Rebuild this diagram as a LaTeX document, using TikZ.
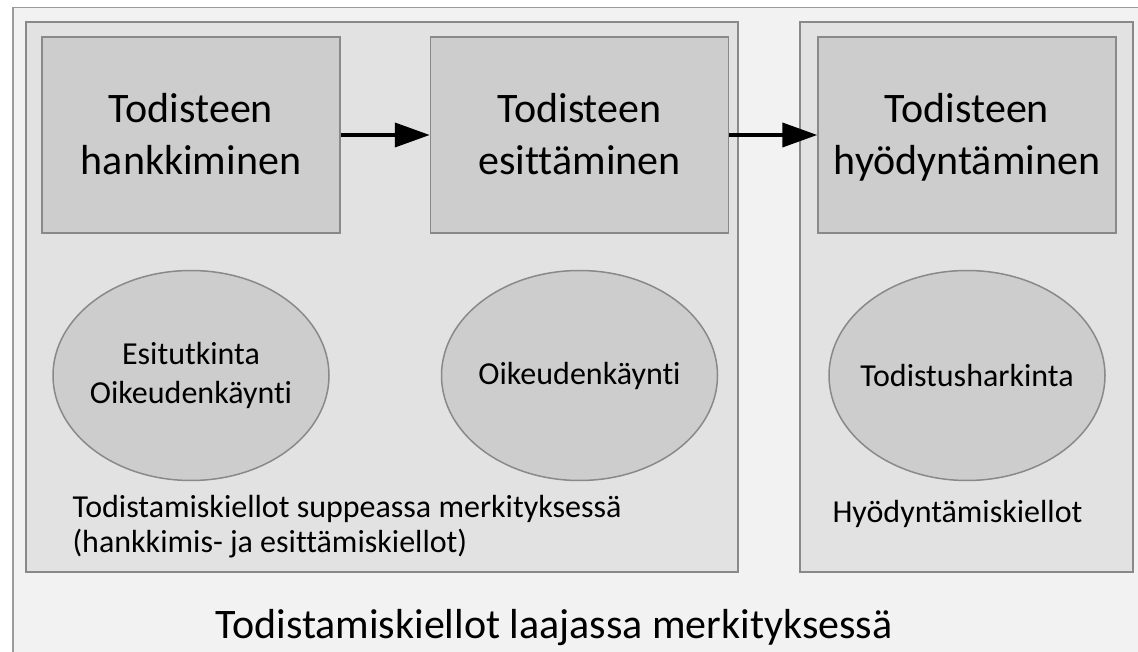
\documentclass[tikz,border=0pt]{standalone}
\usepackage{fontspec}
\setmainfont{Carlito}[Ligatures=CommonOff]
\usetikzlibrary{positioning, shapes.geometric, arrows.meta}

\definecolor{paper}{HTML}{F2F2F2}
\definecolor{groupfill}{HTML}{E2E2E2}
\definecolor{boxfill}{HTML}{CDCDCD}
\definecolor{edge}{HTML}{898989}

\tikzset{
	stage/.style={draw=edge, line width=1.5pt, fill=boxfill, minimum width=298pt, minimum height=196pt, inner sep=0pt, text height=80pt, text depth=0pt, align=center, font=\fontsize{42}{52}\selectfont},
	bubble/.style={draw=edge, line width=1.5pt, fill=boxfill, ellipse, minimum width=276pt, minimum height=210pt, inner sep=0pt},
	bubbletext/.style={align=center, font=\fontsize{32}{39}\selectfont},
	group/.style={draw=edge, line width=1.5pt, fill=groupfill, minimum height=550pt, inner sep=0pt},
	flow/.style={line width=4pt, -{Triangle[length=35pt, width=24pt]}},
}

\begin{document}
\begin{tikzpicture}[x=1pt, y=-1pt, node distance=36pt]
		\useasboundingbox (0,0) rectangle (1138,652);
		\clip (0,0) rectangle (1138,652);
		\fill[white] (0,0) rectangle (1138,652);
		
		\node[draw=edge!85, line width=1.5pt, fill=paper, anchor=north west, minimum width=1160pt, minimum height=680pt] (frame) at (12,7) {};
		
		\node[group, minimum width=712pt] (narrow) at (382,297) {};
		\node[group, minimum width=333pt] (wide) at (966.5,297) {};
		
		\node[stage] (hank) at (191,135) {Todisteen\\hankkiminen};
		\node[stage, right=89pt of hank] (esit) {Todisteen\\esittäminen};
		\node[stage, right=88pt of esit] (hyod) {Todisteen\\hyödyntäminen};
		
		\node[bubble, below=of hank, label={[bubbletext]center:Esitutkinta\\Oikeudenkäynti}] (pretrial) {};
		\node[bubble, below=of esit, label={[bubbletext]center:Oikeudenkäynti}] (trial) {};
		\node[bubble, below=of hyod, label={[bubbletext]center:Todistusharkinta}] (weigh) {};
		
		% base of a two-line node sits on its last line
		\node[anchor=base west, align=left, font=\fontsize{32}{35}\selectfont] (narrow text) at (69,552) {Todistamiskiellot suppeassa merkityksessä\\(hankkimis- ja esittämiskiellot)};
		\node[anchor=base west, font=\fontsize{32}{35}\selectfont] (wide text) at (829,522) {Hyödyntämiskiellot};
		\node[anchor=base, font=\fontsize{42}{52}\selectfont] (title) at (554,638) {Todistamiskiellot laajassa merkityksessä};
		
		\draw[flow] (hank)--(esit);
		\draw[flow] (esit)--(hyod);
	\end{tikzpicture}
\end{document}
